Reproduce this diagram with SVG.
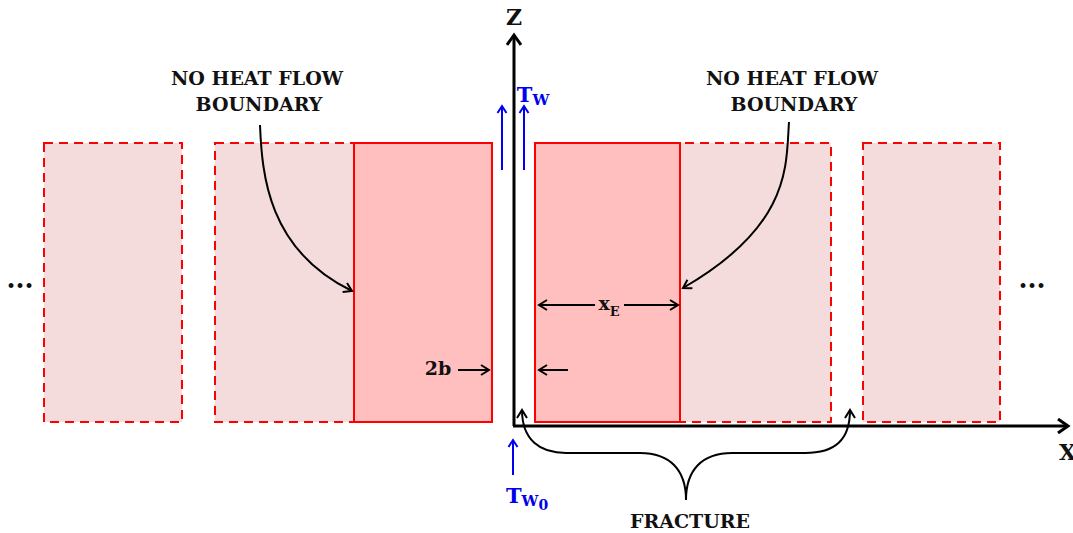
<svg xmlns="http://www.w3.org/2000/svg" width="1073" height="533" viewBox="0 0 1073 533">
<defs>
<style>
.lt{fill:#f5dcdc;stroke:#ff0000;stroke-width:2;stroke-dasharray:9,6}
.sd{fill:#ffbfbf;stroke:#ff0000;stroke-width:2}
.t{font-family:"DejaVu Serif","Liberation Serif",serif;font-weight:bold;fill:#111;text-anchor:middle}
.k{fill:none;stroke:#000;stroke-width:2}
.bl{fill:none;stroke:#0000ee;stroke-width:2}
</style>
<marker id="ak" markerWidth="12" markerHeight="12" refX="10" refY="6" orient="auto" markerUnits="userSpaceOnUse"><path d="M2,1 L10,6 L2,11" fill="none" stroke="#000" stroke-width="2"/></marker>
<marker id="ab" markerWidth="12" markerHeight="12" refX="10" refY="6" orient="auto" markerUnits="userSpaceOnUse"><path d="M3,1.5 L10,6 L3,10.5" fill="none" stroke="#0000ee" stroke-width="2"/></marker>
<marker id="ax" markerWidth="16" markerHeight="16" refX="13" refY="8" orient="auto" markerUnits="userSpaceOnUse"><path d="M3,1 L13,8 L3,15" fill="none" stroke="#000" stroke-width="3"/></marker>
</defs>
<rect width="1073" height="533" fill="#fff"/>
<g id="block-far-left"><rect class="lt" x="44" y="143" width="138" height="279"/></g>
<g id="block-left"><rect class="lt" x="215" y="143" width="277" height="279"/><rect class="sd" x="354" y="143" width="138" height="279"/></g>
<g id="block-right"><rect class="lt" x="535" y="143" width="296" height="279"/><rect class="sd" x="535" y="143" width="145" height="279"/></g>
<g id="block-far-right"><rect class="lt" x="863" y="143" width="137" height="279"/></g>
<g id="axes">
<path d="M514,426 L514,35" stroke="#000" stroke-width="3" fill="none" marker-end="url(#ax)"/>
<path d="M513,426 L1068,426" stroke="#000" stroke-width="3" fill="none" marker-end="url(#ax)"/>
<text class="t" x="514" y="25" font-size="22">Z</text>
<text class="t" x="1059" y="460" font-size="22" style="text-anchor:start">X</text>
</g>
<g id="connectors">
<path class="bl" d="M502,170 L502,106" marker-end="url(#ab)"/>
<path class="bl" d="M524,170 L524,106" marker-end="url(#ab)"/>
<path class="bl" d="M513,475 L513,440" marker-end="url(#ab)"/>
<path class="k" d="M458,370 L489,370" marker-end="url(#ak)"/>
<path class="k" d="M568,370 L539,370" marker-end="url(#ak)"/>
<path class="k" d="M595,305 L539,305" marker-end="url(#ak)"/>
<path class="k" d="M624,305 L678,305" marker-end="url(#ak)"/>
<path class="k" d="M260,125 C262,175 268,250 352,291" marker-end="url(#ak)"/>
<path class="k" d="M789,122 C786,165 792,225 683,288" marker-end="url(#ak)"/>
<path class="k" d="M686,500 C686,470 670,453 640,453 L566,453 C540,453 522,440 522,410" marker-end="url(#ak)"/>
<path class="k" d="M686,500 C686,470 702,453 732,453 L805,453 C835,453 850,440 850,410" marker-end="url(#ak)"/>
</g>
<g id="labels">
<text class="t" x="257" y="85" font-size="19">NO HEAT FLOW</text>
<text class="t" x="259" y="111" font-size="19">BOUNDARY</text>
<text class="t" x="792" y="85" font-size="19">NO HEAT FLOW</text>
<text class="t" x="794" y="111" font-size="19">BOUNDARY</text>
<text class="t" x="438" y="375" font-size="19">2b</text>
<text class="t" x="609" y="310" font-size="19">x<tspan font-size="13" dy="6">E</tspan></text>
<text class="t" x="690" y="528" font-size="19">FRACTURE</text>
<text class="t" x="533" y="102" font-size="21" style="fill:#0000ee">T<tspan font-size="15" dy="3">W</tspan></text>
<text class="t" x="527" y="503" font-size="21" style="fill:#0000ee">T<tspan font-size="15" dy="3">W</tspan><tspan font-size="14" dy="4">0</tspan></text>
<text class="t" x="20" y="288" font-size="26">...</text>
<text class="t" x="1032" y="288" font-size="26">...</text>
</g>
</svg>
